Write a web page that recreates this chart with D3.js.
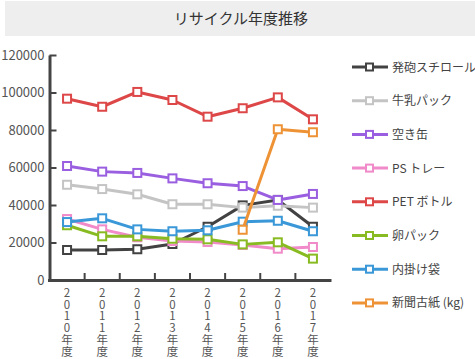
<!DOCTYPE html>
<html><head><meta charset="utf-8">
<script src="https://cdn.jsdelivr.net/npm/d3@7"></script>
<style>
body{margin:0;background:#fff;}
svg{display:block;font-family:"Noto Sans CJK JP","Noto Sans",sans-serif;}
</style></head>
<body><svg id="c" width="475" height="359"></svg>
<script>
const title = "リサイクル年度推移";
const years = ["2010年度","2011年度","2012年度","2013年度","2014年度","2015年度","2016年度","2017年度"];
const yTicks = [0,20000,40000,60000,80000,100000,120000];
const seriesNames = ["発砲スチロール","牛乳パック","空き缶","PS トレー","PET ボトル","卵パック","内掛け袋","新聞古紙 (kg)"];
const seriesColors = ["#424242","#c4c4c4","#9a5fe0","#f08ac8","#dd4747","#88bb22","#3a98d8","#ee9236"];
const styrofoam = [16000,16000,16400,19200,28400,39800,42700,28400];
const milkPack = [50800,48500,45700,40400,40400,38600,39600,38600];
const cans = [60800,57800,57100,54200,51600,50100,42700,45900];
const psTray = [32500,27000,22800,20800,20300,18700,16700,17600];
const petBottle = [96700,92400,100300,96000,87100,91600,97400,85700];
const eggPack = [29200,23300,23300,22000,21700,19000,20100,11400];
const innerBag = [30900,32900,27000,26000,26500,31100,31600,26000];
const newspaper = [null,null,null,null,null,26800,80400,78800];
const seriesValues = [styrofoam,milkPack,cans,psTray,petBottle,eggPack,innerBag,newspaper];

const svg = d3.select("#c");
// title box
svg.append("rect").attr("x",5).attr("y",1).attr("width",470).attr("height",35).attr("fill","#eeeeee");
svg.append("text").attr("x",241).attr("y",24).attr("text-anchor","middle")
  .attr("font-size",15).attr("fill","#333").text(title);

const x = d3.scaleBand().domain(years).range([49.5,330.5]);
const y = d3.scaleLinear().domain([0,120000]).range([280,55]);

// y axis
const gy = svg.append("g").attr("transform","translate(49.5,0)")
  .call(d3.axisLeft(y).tickValues(yTicks).tickFormat(d3.format("d")).tickSize(-7).tickSizeOuter(0).tickPadding(5));
gy.select(".domain").attr("stroke","#444").attr("stroke-width",3);
gy.selectAll(".tick line").attr("stroke","#444").attr("stroke-width",2);
gy.selectAll(".tick text").attr("font-size",13).attr("fill","#555")
  .attr("font-family","'Noto Sans CJK JP','Noto Sans',sans-serif");

// x axis
const gx = svg.append("g").attr("transform","translate(0,280)")
  .call(d3.axisBottom(x).tickSize(-7).tickSizeOuter(0).tickFormat(""));
gx.select(".domain").attr("stroke","#444").attr("stroke-width",3).attr("d","M48,0.5H331.5");
gx.selectAll(".tick line").attr("stroke","#444").attr("stroke-width",2)
  .attr("transform",`translate(${x.bandwidth()/2},0)`);
gx.selectAll(".tick").filter(d=>d===years[years.length-1]).select("line").remove();
// vertical stacked labels
years.forEach(yr=>{
  const t = svg.append("text").attr("font-size",11.5).attr("fill","#555").attr("text-anchor","middle");
  Array.from(yr).forEach((ch,i)=>{
    t.append("tspan").attr("x",x(yr)+x.bandwidth()/2).attr("y",297+i*11.7).text(ch);
  });
});

// lines
const line = d3.line().defined(d=>d.v!==null).x(d=>x(d.yr)+x.bandwidth()/2).y(d=>y(d.v));
seriesValues.forEach((vals,si)=>{
  const pts = vals.map((v,i)=>({yr:years[i],v:v}));
  const g = svg.append("g");
  g.append("path").attr("d",line(pts)).attr("fill","none")
    .attr("stroke",seriesColors[si]).attr("stroke-width",3).attr("stroke-linejoin","round");
  g.selectAll("rect").data(pts.filter(d=>d.v!==null)).join("rect")
    .attr("x",d=>x(d.yr)+x.bandwidth()/2-4).attr("y",d=>y(d.v)-4)
    .attr("width",8).attr("height",8).attr("fill","#fff")
    .attr("stroke",seriesColors[si]).attr("stroke-width",2);
});

// legend
const lg = svg.append("g");
seriesNames.forEach((n,i)=>{
  const ly = 67 + i*33.7;
  lg.append("line").attr("x1",352).attr("x2",388).attr("y1",ly).attr("y2",ly)
    .attr("stroke",seriesColors[i]).attr("stroke-width",3);
  lg.append("rect").attr("x",366).attr("y",ly-3.5).attr("width",7).attr("height",7)
    .attr("fill","#fff").attr("stroke",seriesColors[i]).attr("stroke-width",2);
  lg.append("text").attr("x",392).attr("y",ly+4.5).attr("font-size",12).attr("fill","#444").text(n);
});
</script></body></html>
